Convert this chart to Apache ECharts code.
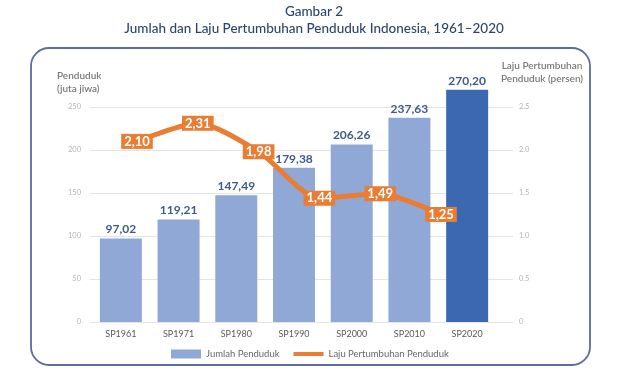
<!DOCTYPE html>
<html><head><meta charset="utf-8">
<script src="https://cdn.jsdelivr.net/npm/echarts@6/dist/echarts.min.js"></script>
<style>html,body{margin:0;padding:0;background:#fff}#c{width:628px;height:386px}</style>
</head><body><div id="c"></div>
<script>
const categories = ['SP1961','SP1971','SP1980','SP1990','SP2000','SP2010','SP2020'];
const populationValues = [97.02, 119.21, 147.49, 179.38, 206.26, 237.63, 270.20];
const growthCategories = ['1961-1971','1971-1980','1980-1990','1990-2000','2000-2010','2010-2020'];
const growthValues = [2.10, 2.31, 1.98, 1.44, 1.49, 1.25];
const leftTicks = [0, 50, 100, 150, 200, 250];
const rightTicks = [0, 0.5, 1.0, 1.5, 2.0, 2.5];

const FONT = 'Lato';
const fmt = v => v.toFixed(2).replace('.', ',');
const chart = echarts.init(document.getElementById('c'));
const gTop = 107, gBottom = 64;
chart.setOption({
  animation: false,
  textStyle: { fontFamily: FONT },
  title: {
    text: 'Gambar 2\nJumlah dan Laju Pertumbuhan Penduduk Indonesia, 1961–2020',
    left: 'center', top: -2,
    textStyle: { fontFamily: FONT, fontSize: 13.5, fontWeight: 500, color: '#2d4769', lineHeight: 17, align: 'center' }
  },
  graphic: [
    { type: 'rect', shape: { x: 31, y: 48, width: 559, height: 317, r: 18 }, style: { fill: 'none', stroke: '#5b6d98', lineWidth: 1.8 }, z: -1 },
    { type: 'text', x: 57, y: 69, style: { text: 'Penduduk\n(juta jiwa)', fill: '#7a7a7a', font: '600 10px Lato', lineHeight: 13 } },
    { type: 'text', x: 542, y: 60, style: { text: 'Laju Pertumbuhan\nPenduduk (persen)', fill: '#7a7a7a', font: '600 10px Lato', lineHeight: 12.5, align: 'center' } }
  ],
  legend: {
    bottom: 22, left: 166, itemWidth: 30, itemHeight: 9, itemGap: 14,
    textStyle: { color: '#666', fontSize: 9.5, fontFamily: FONT },
    data: [{ name: 'Jumlah Penduduk', icon: 'rect' },
           { name: 'Laju Pertumbuhan Penduduk', icon: 'path://M0,0 L30,0 L30,4 L0,4 Z' }]
  },
  grid: [
    { left: 90, right: 115, top: gTop, bottom: gBottom },
    { left: 92, right: 132, top: gTop, bottom: gBottom },
    { left: 137, right: 187, top: gTop, bottom: gBottom }
  ],
  xAxis: [
    { gridIndex: 0, type: 'category', data: categories, show: false },
    { gridIndex: 1, type: 'category', data: categories, axisLine: { show: false }, axisTick: { show: false },
      axisLabel: { color: '#5a5a5a', fontSize: 9, margin: 8, fontFamily: FONT } },
    { gridIndex: 2, type: 'category', data: growthCategories, boundaryGap: false, show: false }
  ],
  yAxis: [
    { gridIndex: 0, type: 'value', min: leftTicks[0], max: leftTicks[leftTicks.length - 1], interval: 50, position: 'left',
      axisLine: { show: false }, axisTick: { show: false },
      axisLabel: { color: '#b5b5b5', fontSize: 7.5, margin: 9 },
      splitLine: { lineStyle: { color: '#e4e4e4', width: 1 } } },
    { gridIndex: 0, type: 'value', min: rightTicks[0], max: rightTicks[rightTicks.length - 1], interval: 0.5, position: 'right',
      axisLine: { show: false }, axisTick: { show: false }, splitLine: { show: false },
      axisLabel: { color: '#b5b5b5', fontSize: 7.5, margin: 6, formatter: v => v === 0 ? '0' : v.toFixed(1) } },
    { gridIndex: 1, type: 'value', min: 0, max: 250, show: false },
    { gridIndex: 2, type: 'value', min: 0, max: 2.5, show: false }
  ],
  series: [
    { name: 'Jumlah Penduduk', type: 'bar', xAxisIndex: 1, yAxisIndex: 2, barWidth: 42, clip: false,
      itemStyle: { color: '#8fa8d6' },
      data: populationValues.map((v, i) => i === populationValues.length - 1 ? { value: v, itemStyle: { color: '#3c68b2' } } : v),
      label: { show: true, position: 'top', distance: 3, formatter: p => fmt(p.value), color: '#3f5a8c', fontSize: 12, fontWeight: 'bold', fontFamily: FONT } },
    { name: 'Laju Pertumbuhan Penduduk', type: 'line', xAxisIndex: 2, yAxisIndex: 3, data: growthValues,
      smooth: 0.25, symbol: 'circle', symbolSize: 1, showSymbol: true, z: 5,
      lineStyle: { color: '#ea7d34', width: 5 }, itemStyle: { color: '#ea7d34' },
      label: { show: true, position: 'inside', formatter: p => fmt(p.value), color: '#fff', fontSize: 13, fontWeight: 'bold',
        fontFamily: FONT, backgroundColor: '#ea7d34', padding: [1, 3, 0, 3], lineHeight: 14 } }
  ]
});
</script></body></html>
